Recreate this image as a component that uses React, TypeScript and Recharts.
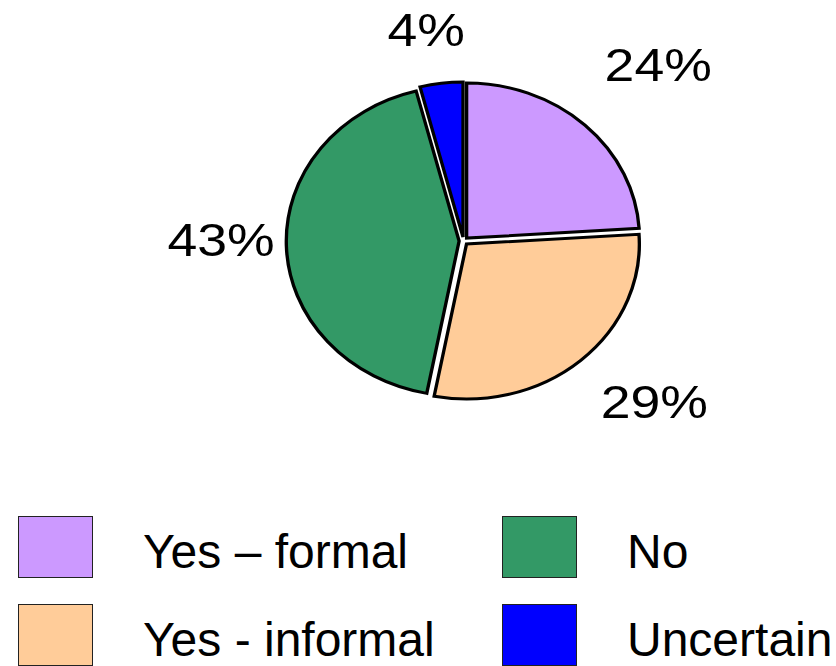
import { PieChart, Pie, Cell, Legend } from 'recharts';

const categories = ['Yes – formal', 'Yes - informal', 'No', 'Uncertain'];
const shares = [24, 29, 43, 4];
const colors = ['#CC99FF', '#FFCC99', '#339966', '#0000FF'];

const data = categories.map((name, i) => ({ name, value: shares[i] }));

const CX = 458;
const CY = 236;
const STRETCH = 1.115;
const EXPLODE = 4;
// small nudges so each label sits where the original put it (screen px)
const labelNudge = [
    { dx: 22, dy: -9 },
    { dx: 24, dy: -12 },
    { dx: 11, dy: -9 },
    { dx: -5, dy: 17 },
];
const FONT = '"Liberation Sans", Arial, Helvetica, sans-serif';

const total = shares.reduce((a, b) => a + b, 0);
const explodeStyle = (i: number) => {
    const before = shares.slice(0, i).reduce((a, b) => a + b, 0);
    const mid = ((90 - ((before + shares[i] / 2) / total) * 360) * Math.PI) / 180;
    return { transform: `translate(${EXPLODE * Math.cos(mid)}px, ${-EXPLODE * Math.sin(mid)}px)` };
};

const renderLabel = (props: any) => {
    const { cx, cy, midAngle, index, value } = props;
    const rad = (midAngle * Math.PI) / 180;
    const r = 230;
    const x = cx + r * 1.1 * Math.cos(rad) + labelNudge[index].dx;
    const y = cy - r * Math.sin(rad) + labelNudge[index].dy;
    return (
        <text
            x={0}
            y={0}
            transform={`translate(${x},${y}) scale(1.14,1)`}
            textAnchor="middle"
            dominantBaseline="central"
            fill="#000"
            fontSize={47}
            fontFamily={FONT}
        >
            {`${value}%`}
        </text>
    );
};

const renderLegend = () => (
    <div
        style={{
            display: 'grid',
            gridTemplateColumns: '484px 330px',
            gridTemplateRows: '88px 88px',
            gridAutoFlow: 'column',
            paddingLeft: 18,
            fontFamily: FONT,
            fontSize: 48,
            color: '#000',
        }}
    >
        {categories.map((name, i) => (
            <div key={name} style={{ display: 'flex', alignItems: 'flex-start' }}>
                <span
                    style={{
                        width: 73,
                        height: 60,
                        background: colors[i],
                        border: '1.5px solid #222',
                        display: 'inline-block',
                        flexShrink: 0,
                    }}
                />
                <span style={{ marginLeft: 50, lineHeight: '72px', whiteSpace: 'nowrap' }}>{name}</span>
            </div>
        ))}
    </div>
);

export default function App() {
    return (
        <div style={{ position: 'absolute', left: 0, top: 0, width: 836, height: 666, background: '#fff', overflow: 'hidden' }}>
            <style>{`.recharts-pie-sector { transform: scaleX(${STRETCH}); transform-origin: ${CX}px ${CY}px; }`}</style>
            <PieChart width={836} height={666}>
                <Pie
                    data={data}
                    dataKey="value"
                    nameKey="name"
                    cx={CX}
                    cy={CY}
                    outerRadius={155}
                    startAngle={90}
                    endAngle={-270}
                    stroke="#000"
                    strokeWidth={3}
                    label={renderLabel}
                    labelLine={false}
                    isAnimationActive={false}
                >
                    {data.map((entry, i) => (
                        <Cell key={entry.name} fill={colors[i]} style={explodeStyle(i)} />
                    ))}
                </Pie>
                <Legend content={renderLegend} wrapperStyle={{ left: 0, top: 516, width: 836 }} />
            </PieChart>
        </div>
    );
}
